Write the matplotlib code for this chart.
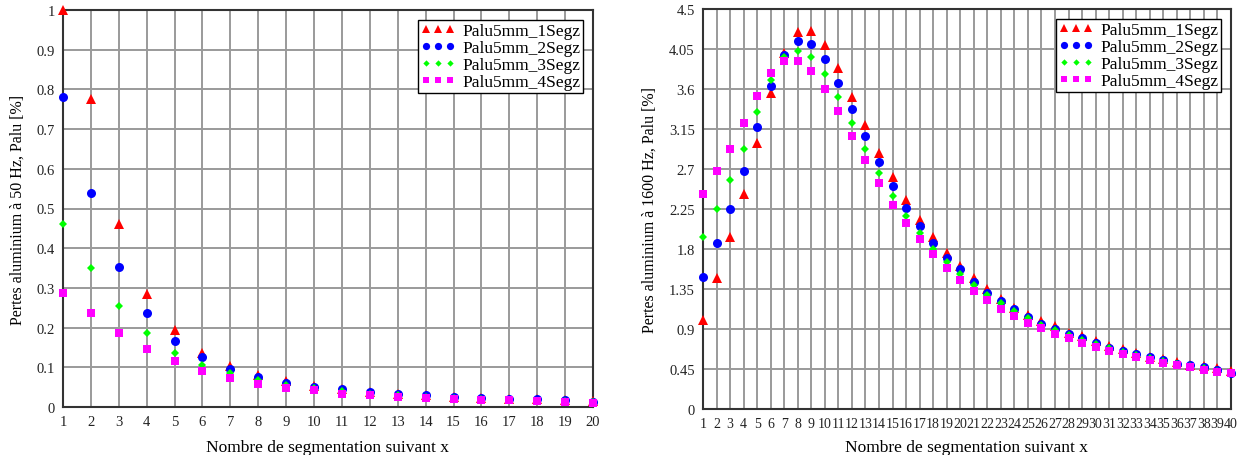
import matplotlib
matplotlib.use("Agg")
import matplotlib.pyplot as plt
import numpy as np

plt.rcParams['font.family'] = ['Liberation Serif', 'DejaVu Serif']

labels = ["Palu5mm_1Segz", "Palu5mm_2Segz", "Palu5mm_3Segz", "Palu5mm_4Segz"]
colors = ["#ff0000", "#0000ff", "#00ff00", "#ff00ff"]
markers = ["^", "o", "D", "s"]
msizes = [6.5, 6.5, 4.0, 6.0]

# Left chart: 50 Hz
x50 = list(range(1, 21))
s1_50 = [1.0, 0.775, 0.46, 0.285, 0.193, 0.137, 0.103, 0.080, 0.065, 0.053,
         0.046, 0.039, 0.033, 0.029, 0.025, 0.022, 0.020, 0.019, 0.017, 0.015]
s2_50 = [0.78, 0.54, 0.352, 0.237, 0.165, 0.125, 0.095, 0.075, 0.060, 0.051,
         0.045, 0.037, 0.032, 0.029, 0.024, 0.022, 0.019, 0.019, 0.017, 0.013]
s3_50 = [0.46, 0.35, 0.255, 0.186, 0.137, 0.105, 0.085, 0.068, 0.056, 0.047,
         0.040, 0.034, 0.029, 0.025, 0.022, 0.019, 0.018, 0.016, 0.014, 0.012]
s4_50 = [0.287, 0.236, 0.186, 0.145, 0.115, 0.090, 0.074, 0.059, 0.049, 0.043,
         0.034, 0.030, 0.026, 0.022, 0.019, 0.017, 0.017, 0.014, 0.012, 0.011]
yticks50 = [0, 0.1, 0.2, 0.3, 0.4, 0.5, 0.6, 0.7, 0.8, 0.9, 1]
ytl50 = ["0", "0.1", "0.2", "0.3", "0.4", "0.5", "0.6", "0.7", "0.8", "0.9", "1"]

# Right chart: 1600 Hz
x1600 = list(range(1, 41))
s1_1600 = [1.00, 1.47, 1.94, 2.415, 2.995, 3.55, 4.00, 4.244, 4.255, 4.094,
           3.834, 3.514, 3.194, 2.88, 2.61, 2.35, 2.13, 1.93, 1.75, 1.61,
           1.47, 1.35, 1.24, 1.14, 1.06, 0.99, 0.93, 0.86, 0.82, 0.76,
           0.71, 0.67, 0.63, 0.59, 0.56, 0.53, 0.50, 0.48, 0.46, 0.43]
s2_1600 = [1.48, 1.87, 2.254, 2.68, 3.17, 3.63, 3.98, 4.14, 4.11, 3.94,
           3.67, 3.375, 3.07, 2.78, 2.51, 2.265, 2.055, 1.87, 1.70, 1.57,
           1.43, 1.31, 1.21, 1.12, 1.03, 0.96, 0.90, 0.84, 0.80, 0.74,
           0.69, 0.65, 0.62, 0.58, 0.55, 0.51, 0.49, 0.47, 0.44, 0.41]
s3_1600 = [1.93, 2.25, 2.58, 2.93, 3.34, 3.70, 3.96, 4.03, 3.96, 3.77,
           3.51, 3.22, 2.93, 2.65, 2.40, 2.17, 1.98, 1.80, 1.65, 1.52,
           1.40, 1.28, 1.19, 1.10, 1.02, 0.95, 0.89, 0.83, 0.78, 0.73,
           0.69, 0.64, 0.61, 0.57, 0.54, 0.51, 0.48, 0.46, 0.43, 0.41]
s4_1600 = [2.42, 2.68, 2.93, 3.22, 3.52, 3.78, 3.92, 3.92, 3.80, 3.60,
           3.35, 3.07, 2.80, 2.54, 2.29, 2.09, 1.91, 1.74, 1.59, 1.45,
           1.33, 1.23, 1.13, 1.05, 0.97, 0.91, 0.84, 0.80, 0.74, 0.70,
           0.65, 0.62, 0.58, 0.55, 0.52, 0.49, 0.47, 0.44, 0.42, 0.41]
yticks1600 = [0, 0.45, 0.9, 1.35, 1.8, 2.25, 2.7, 3.15, 3.6, 4.05, 4.5]
ytl1600 = ["0", "0.45", "0.9", "1.35", "1.8", "2.25", "2.7", "3.15", "3.6", "4.05", "4.5"]

W, H = 1254, 456
fig = plt.figure(figsize=(W / 100, H / 100), dpi=100)

ax1 = fig.add_axes([63 / W, (H - 408) / H, (593 - 63) / W, (408 - 11) / H])
ax2 = fig.add_axes([703 / W, (H - 410) / H, (1231 - 703) / W, (410 - 10) / H])


def style(ax, xs, series, yticks, ytl, ylim, ylabel):
    for ys, c, m, ms, lab in zip(series, colors, markers, msizes, labels):
        ax.plot(xs, ys, linestyle="none", marker=m, color=c, markersize=ms,
                markeredgewidth=0, label=lab, clip_on=False, zorder=3)
    ax.set_xlim(xs[0], xs[-1])
    ax.set_ylim(*ylim)
    ax.set_xticks(xs)
    ax.set_xticklabels([str(v) for v in xs])
    ax.set_yticks(yticks)
    ax.set_yticklabels(ytl)
    ax.grid(True, color="#9a9a9a", linewidth=1.4)
    ax.set_axisbelow(True)
    for sp in ax.spines.values():
        sp.set_color("#333333")
        sp.set_linewidth(1.5)
    ax.tick_params(length=0, labelsize=10.5, colors="#222222", pad=6)
    ax.set_xlabel("Nombre de segmentation suivant x", fontsize=12.5,
                  va="baseline")
    ax.set_ylabel(ylabel, fontsize=11.5, labelpad=8)
    leg = ax.legend(loc="upper right", numpoints=3, fontsize=12.5, frameon=True,
                    fancybox=False, borderpad=0.15, handlelength=2.0,
                    handletextpad=0.4, labelspacing=0.05, borderaxespad=0.6,
                    markerscale=0.8)
    leg.get_frame().set_edgecolor("black")
    leg.get_frame().set_linewidth(1.0)
    leg.get_frame().set_alpha(1)


style(ax1, x50, [s1_50, s2_50, s3_50, s4_50], yticks50, ytl50, (0, 1),
      "Pertes aluminium à 50 Hz, Palu [%]")
style(ax2, x1600, [s1_1600, s2_1600, s3_1600, s4_1600], yticks1600, ytl1600, (0, 4.5),
      "Pertes aluminium à 1600 Hz, Palu [%]")
ax2.tick_params(axis="x", labelsize=10, pad=6)
# keep x label centred on each axes horizontally, near the bottom edge
for ax in (ax1, ax2):
    bb = ax.get_position()
    ax.xaxis.set_label_coords((bb.x0 + bb.x1) / 2, 4 / H, transform=fig.transFigure)

fig.savefig("out.png", dpi=100)
